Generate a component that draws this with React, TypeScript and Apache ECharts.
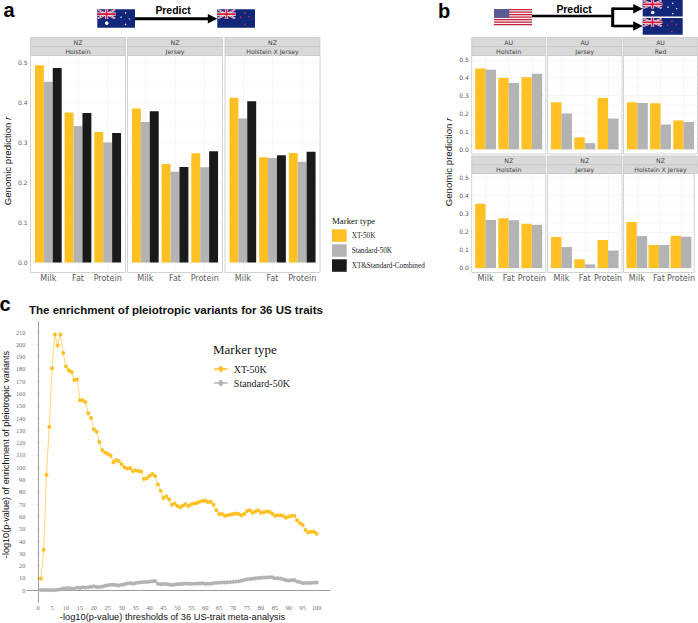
import React, { useEffect, useRef } from "react";
import * as echarts from "echarts";

const traits = ["Milk", "Fat", "Protein"];
const traitPositions = [1, 2, 3];
const rMajorTicks = [0, 0.1, 0.2, 0.3, 0.4, 0.5];
const rMinorTicks = [0.05, 0.15, 0.25, 0.35, 0.45];
const thresholdTicks = [0, 5, 10, 15, 20, 25, 30, 35, 40, 45, 50, 55, 60, 65, 70, 75, 80, 85, 90, 95, 100];
const enrichmentTicks = [0, 10, 20, 30, 40, 50, 60, 70, 80, 90, 100, 110, 120, 130, 140, 150, 160, 170, 180, 190, 200, 210];

const aHolsteinXT = [0.493, 0.375, 0.326];
const aHolsteinStd = [0.452, 0.341, 0.3];
const aHolsteinCombined = [0.486, 0.374, 0.324];
const aJerseyXT = [0.385, 0.246, 0.273];
const aJerseyStd = [0.351, 0.227, 0.238];
const aJerseyCombined = [0.378, 0.239, 0.278];
const aCrossXT = [0.412, 0.263, 0.274];
const aCrossStd = [0.36, 0.261, 0.252];
const aCrossCombined = [0.403, 0.268, 0.277];

const bAuHolsteinXT = [0.452, 0.398, 0.402];
const bAuHolsteinStd = [0.444, 0.37, 0.422];
const bAuJerseyXT = [0.263, 0.067, 0.287];
const bAuJerseyStd = [0.2, 0.035, 0.172];
const bAuRedXT = [0.263, 0.257, 0.161];
const bAuRedStd = [0.259, 0.139, 0.152];
const bNzHolsteinXT = [0.356, 0.275, 0.245];
const bNzHolsteinStd = [0.266, 0.264, 0.24];
const bNzJerseyXT = [0.172, 0.048, 0.155];
const bNzJerseyStd = [0.116, 0.02, 0.096];
const bNzCrossXT = [0.255, 0.127, 0.179];
const bNzCrossStd = [0.177, 0.127, 0.173];

const enrichmentXT = [
  9.5, 33, 94, 133, 180.5, 208, 199, 208, 193, 182,
  179, 177.5, 171, 171.5, 154.5, 154.5, 153, 144, 140, 131,
  129, 120.5, 114, 112, 111, 109.5, 104, 106, 105, 102.5,
  100, 99, 99.5, 97, 97.5, 97, 96.5, 90.5, 91, 93,
  94.5, 93, 86, 81, 75, 76.5, 74, 69.5, 70.5, 68.5,
  67.5, 69, 70, 68.5, 70, 70.5, 71, 72, 72.5, 73,
  71.5, 72, 69.5, 65, 62, 62, 60.5, 61, 61.5, 62,
  62.5, 62, 61, 62, 64.5, 65, 63, 64, 65, 63,
  63.5, 64, 64, 62.5, 60.5, 61, 61, 60.5, 59, 60,
  60.5, 60.5, 57, 54.5, 53, 49, 47, 47.5, 47.5, 46,
];
const enrichmentStd = [
  0.3, 0.2, 0.2, 0.1, 0.2, 0.1, 0.4, 0.7, 1.5, 1.7,
  1.8, 1.5, 1.2, 2.2, 1.9, 2.5, 2.3, 2.5, 2.9, 3.2,
  2.6, 2.7, 3.0, 3.6, 4.0, 4.4, 4.5, 4.2, 3.8, 4.5,
  4.9, 5.5, 5.8, 5.4, 5.8, 6.2, 6.5, 6.6, 6.7, 7.0,
  7.3, 7.5, 5.2, 4.9, 5.0, 5.1, 4.7, 4.3, 4.6, 4.9,
  5.0, 5.3, 5.5, 5.3, 5.2, 5.3, 5.4, 5.5, 5.7, 5.2,
  5.3, 5.4, 5.8, 6.0, 6.2, 6.3, 6.3, 6.5, 6.6, 6.8,
  7.0, 7.4, 7.8, 8.3, 9.0, 9.2, 9.4, 9.7, 10.0, 10.2,
  10.3, 10.4, 10.5, 10.5, 9.8, 9.7, 9.5, 9.0, 8.2, 8.0,
  8.2, 8.3, 7.0, 6.7, 5.8, 5.8, 6.0, 6.0, 6.2, 6.3,
];

const XT = "XT-50K";
const STD = "Standard-50K";
const COMBINED = "XT&Standard-Combined";
const YELLOW = "#FFC024";
const GREY = "#B3B3B3";
const BLACK = "#1A1A1A";
const SANS = "'DejaVu Sans'";
const ARIAL = "'Liberation Sans'";
const SERIF = "'Liberation Serif'";

type Panel = {
  x: number; y: number; w: number; h: number; top: string; breed: string;
  stripTop: number; stripH: number; min: number; max: number; showY: boolean; showX: boolean;
  fs: number; values: [string, number[], string][];
};

const panels: Panel[] = [
  { x: 30.5, y: 55.5, w: 95, h: 217, top: "NZ", breed: "Holstein", stripTop: 37.5, stripH: 9, min: -0.025, max: 0.5175, showY: true, showX: true, fs: 8,
    values: [[XT, aHolsteinXT, YELLOW], [STD, aHolsteinStd, GREY], [COMBINED, aHolsteinCombined, BLACK]] },
  { x: 127.5, y: 55.5, w: 95, h: 217, top: "NZ", breed: "Jersey", stripTop: 37.5, stripH: 9, min: -0.025, max: 0.5175, showY: false, showX: true, fs: 8,
    values: [[XT, aJerseyXT, YELLOW], [STD, aJerseyStd, GREY], [COMBINED, aJerseyCombined, BLACK]] },
  { x: 225, y: 55.5, w: 95, h: 217, top: "NZ", breed: "Holstein X Jersey", stripTop: 37.5, stripH: 9, min: -0.025, max: 0.5175, showY: false, showX: true, fs: 8,
    values: [[XT, aCrossXT, YELLOW], [STD, aCrossStd, GREY], [COMBINED, aCrossCombined, BLACK]] },
  { x: 471.7, y: 55.5, w: 74, h: 98.5, top: "AU", breed: "Holstein", stripTop: 37.5, stripH: 9, min: -0.026, max: 0.524, showY: true, showX: false, fs: 8,
    values: [[XT, bAuHolsteinXT, YELLOW], [STD, bAuHolsteinStd, GREY]] },
  { x: 547.5, y: 55.5, w: 74.5, h: 98.5, top: "AU", breed: "Jersey", stripTop: 37.5, stripH: 9, min: -0.026, max: 0.524, showY: false, showX: false, fs: 8,
    values: [[XT, bAuJerseyXT, YELLOW], [STD, bAuJerseyStd, GREY]] },
  { x: 623.5, y: 55.5, w: 74, h: 98.5, top: "AU", breed: "Red", stripTop: 37.5, stripH: 9, min: -0.026, max: 0.524, showY: false, showX: false, fs: 8,
    values: [[XT, bAuRedXT, YELLOW], [STD, bAuRedStd, GREY]] },
  { x: 471.7, y: 173.5, w: 74, h: 99, top: "NZ", breed: "Holstein", stripTop: 156, stripH: 9, min: -0.025, max: 0.523, showY: true, showX: true, fs: 8,
    values: [[XT, bNzHolsteinXT, YELLOW], [STD, bNzHolsteinStd, GREY]] },
  { x: 547.5, y: 173.5, w: 74.5, h: 99, top: "NZ", breed: "Jersey", stripTop: 156, stripH: 9, min: -0.025, max: 0.523, showY: false, showX: true, fs: 8,
    values: [[XT, bNzJerseyXT, YELLOW], [STD, bNzJerseyStd, GREY]] },
  { x: 623.5, y: 173.5, w: 74, h: 99, top: "NZ", breed: "Holstein X Jersey", stripTop: 156, stripH: 9, min: -0.025, max: 0.523, showY: false, showX: true, fs: 8,
    values: [[XT, bNzCrossXT, YELLOW], [STD, bNzCrossStd, GREY]] },
];

const txt = (text: string, x: number, y: number, font: string, size: number, fill: string, extra: any = {}, styleExtra: any = {}) => ({
  type: "text", x, y, silent: true, ...extra,
  style: { text, fontFamily: font, fontSize: size, fill, align: "center", verticalAlign: "middle", ...styleExtra },
});

function unionJack(x: number, y: number, w: number, h: number) {
  const diag = (a: number[], b: number[], c: string, lw: number) => ({
    type: "line", silent: true, shape: { x1: a[0], y1: a[1], x2: b[0], y2: b[1] }, style: { stroke: c, lineWidth: lw },
  });
  const rect = (rx: number, ry: number, rw: number, rh: number, c: string) => ({
    type: "rect", silent: true, shape: { x: rx, y: ry, width: rw, height: rh }, style: { fill: c },
  });
  return [
    diag([x + 0.7, y + 0.5], [x + w - 0.7, y + h - 0.5], "#FFFFFF", 1.8),
    diag([x + w - 0.7, y + 0.5], [x + 0.7, y + h - 0.5], "#FFFFFF", 1.8),
    diag([x + 0.7, y + 0.5], [x + w - 0.7, y + h - 0.5], "#D8143A", 0.7),
    diag([x + w - 0.7, y + 0.5], [x + 0.7, y + h - 0.5], "#D8143A", 0.7),
    rect(x, y + h / 2 - 1.6, w, 3.2, "#FFFFFF"),
    rect(x + w / 2 - 1.6, y, 3.2, h, "#FFFFFF"),
    rect(x, y + h / 2 - 0.9, w, 1.8, "#D8143A"),
    rect(x + w / 2 - 0.9, y, 1.8, h, "#D8143A"),
  ];
}

function southernFlag(x: number, y: number, w: number, h: number, stars: number[][], color: string) {
  const base = { type: "rect", silent: true, shape: { x, y, width: w, height: h }, style: { fill: "#12267A" } };
  const dots = stars.map((s) => ({
    type: "circle", silent: true, shape: { cx: x + s[0] * w, cy: y + s[1] * h, r: s[2] }, style: { fill: color },
  }));
  return [base, ...unionJack(x, y, w * 0.49, h * 0.52), ...dots];
}

const auStars = [[0.25, 0.75, 1.8], [0.75, 0.2, 0.7], [0.63, 0.43, 0.7], [0.85, 0.52, 0.6], [0.75, 0.82, 0.7]];
const nzStars = [[0.73, 0.2, 0.8], [0.62, 0.43, 0.8], [0.84, 0.4, 0.8], [0.73, 0.82, 0.8]];

function usFlag(x: number, y: number, w: number, h: number) {
  const out: any[] = [{ type: "rect", silent: true, shape: { x, y, width: w, height: h }, style: { fill: "#F4F0F0" } }];
  const sh = h / 13;
  for (let i = 0; i < 13; i += 2) {
    out.push({ type: "rect", silent: true, shape: { x, y: y + i * sh, width: w, height: sh }, style: { fill: "#C8203F" } });
  }
  out.push({ type: "rect", silent: true, shape: { x, y, width: w * 0.4, height: sh * 7 }, style: { fill: "#5A5A94" } });
  return out;
}

function arrowHead(tipX: number, y: number, len: number, half: number) {
  return { type: "polygon", silent: true, shape: { points: [[tipX, y], [tipX - len, y - half], [tipX - len, y + half]] }, style: { fill: "#000000" } };
}
function seg(x1: number, y1: number, x2: number, y2: number, lw: number) {
  return { type: "line", silent: true, shape: { x1, y1, x2, y2 }, style: { stroke: "#000000", lineWidth: lw } };
}

const legendLineIcon = "path://M0 44H34A16 16 0 0 1 66 44H100V56H66A16 16 0 0 1 34 56H0Z";

function buildOption() {
  const grid: any[] = [];
  const xAxis: any[] = [];
  const yAxis: any[] = [];
  const series: any[] = [];
  const graphic: any[] = [];

  panels.forEach((p) => {
    const gi = grid.length;
    grid.push({ left: p.x, top: p.y, width: p.w, height: p.h, show: true, backgroundColor: "#FFFFFF", borderColor: "#D2D2D2", borderWidth: 1 });
    xAxis.push({
      type: "value", gridIndex: gi, min: 0.4, max: 3.6,
      axisLine: { show: false },
      axisTick: { show: false, customValues: traitPositions },
      axisLabel: {
        show: p.showX, customValues: traitPositions, margin: 1.5, fontFamily: SANS, fontSize: p.fs, color: "#5A5A5A",
        formatter: (v: number) => traits[Math.round(v) - 1] ?? "",
      },
      splitLine: { show: true, lineStyle: { color: "#EFEFEF", width: 0.6 } },
    });
    const yi = yAxis.length;
    yAxis.push({
      type: "value", gridIndex: gi, min: p.min, max: p.max,
      axisLine: { show: false },
      axisTick: { show: false, customValues: rMajorTicks },
      axisLabel: {
        show: p.showY, customValues: rMajorTicks, margin: 3, fontFamily: SANS, fontSize: 6, color: "#5A5A5A",
        formatter: (v: number) => v.toFixed(1),
      },
      splitLine: { show: true, lineStyle: { color: "#EDEDED", width: 0.6 } },
    });
    yAxis.push({
      type: "value", gridIndex: gi, min: p.min, max: p.max, position: "right",
      axisLine: { show: false },
      axisTick: { show: false, customValues: rMinorTicks },
      axisLabel: { show: false, customValues: rMinorTicks },
      splitLine: { show: true, lineStyle: { color: "#F7F7F7", width: 0.5 } },
    });
    const unit = p.w / 3.2;
    p.values.forEach(([name, vals, color]) => {
      series.push({
        type: "bar", name, xAxisIndex: gi, yAxisIndex: yi, barGap: "0%",
        barWidth: (unit * 0.9) / p.values.length,
        itemStyle: { color },
        data: vals.map((v, i) => [traitPositions[i], v]),
      });
    });
    const stripStyle = { fill: "#D9D9D9", stroke: "#C4C4C4", lineWidth: 0.7 };
    graphic.push({ type: "rect", silent: true, shape: { x: p.x, y: p.stripTop, width: p.w, height: p.stripH }, style: stripStyle });
    graphic.push({ type: "rect", silent: true, shape: { x: p.x, y: p.stripTop + p.stripH, width: p.w, height: p.y - p.stripTop - p.stripH }, style: stripStyle });
    graphic.push(txt(p.top, p.x + p.w / 2, p.stripTop + p.stripH / 2 + 0.3, SANS, 6.2, "#444444"));
    graphic.push(txt(p.breed, p.x + p.w / 2, p.stripTop + p.stripH + (p.y - p.stripTop - p.stripH) / 2 + 0.3, SANS, 6.2, "#444444"));
  });

  // panel c
  const gc = grid.length;
  grid.push({ left: 26, top: 321.7, width: 304, height: 280.6, show: false });
  xAxis.push({
    type: "value", gridIndex: gc, min: -4, max: 104.8,
    name: "-log10(p-value) thresholds of 36 US-trait meta-analysis",
    nameLocation: "middle", nameGap: 10, nameMoveOverlap: false,
    nameTextStyle: { fontFamily: ARIAL, fontSize: 9.3, color: "#111111", padding: [0, 12, 0, 0] },
    axisLine: { show: true, lineStyle: { color: "#9C9C9C", width: 1 } },
    axisTick: { show: false, customValues: thresholdTicks },
    axisLabel: { customValues: thresholdTicks, margin: 2, fontFamily: SERIF, fontSize: 6.3, color: "#707070" },
    splitLine: { show: false },
  });
  yAxis.push({
    type: "value", gridIndex: gc, min: -9.8, max: 218.4,
    name: "-log10(p-value) of enrichment of pleiotropic variants",
    nameLocation: "middle", nameGap: 17, nameMoveOverlap: false,
    nameTextStyle: { fontFamily: ARIAL, fontSize: 9.1, color: "#111111", padding: [0, 0, 0, 15] },
    axisLine: { show: true, lineStyle: { color: "#9C9C9C", width: 1 } },
    axisTick: { show: true, length: 1, customValues: enrichmentTicks, lineStyle: { color: "#AAAAAA", width: 0.6 } },
    axisLabel: { customValues: enrichmentTicks, margin: 1.5, fontFamily: SERIF, fontSize: 6.4, color: "#707070" },
    splitLine: { show: false },
  });
  const cy = yAxis.length - 1;
  const lineSeries = (name: string, vals: number[], color: string, lineColor: string) => ({
    type: "line", name, xAxisIndex: gc, yAxisIndex: cy, symbol: "circle", symbolSize: 4, showSymbol: true,
    lineStyle: { color: lineColor, width: 0.9 }, itemStyle: { color },
    data: vals.map((v, i) => [i + 1, v]),
  });
  series.push(lineSeries(STD, enrichmentStd, GREY, "#C8C8C8"));
  series.push(lineSeries(XT, enrichmentXT, YELLOW, "#FFD066"));

  // annotations
  graphic.push(txt("a", 9, 10.2, ARIAL, 20, "#000000", {}, { fontWeight: "bold" }));
  graphic.push(txt("b", 444, 11, ARIAL, 20, "#000000", {}, { fontWeight: "bold" }));
  graphic.push(txt("c", 5, 304, ARIAL, 20, "#000000", {}, { fontWeight: "bold" }));
  graphic.push(txt("The enrichment of pleiotropic variants for 36 US traits", 176, 309.7, ARIAL, 11.5, "#111111", {}, { fontWeight: "bold" }));

  const rich = (size: number) => ({
    a: { fontFamily: ARIAL, fontSize: size, fill: "#111111", color: "#111111" },
    b: { fontFamily: ARIAL, fontSize: size, fontStyle: "italic", fill: "#111111", color: "#111111" },
  });
  graphic.push({ type: "text", silent: true, x: 7, y: 161, rotation: Math.PI / 2,
    style: { text: "{a|Genomic prediction }{b|r}", rich: rich(9.6), align: "center", verticalAlign: "middle" } });
  graphic.push({ type: "text", silent: true, x: 448, y: 162, rotation: Math.PI / 2,
    style: { text: "{a|Genomic prediction }{b|r}", rich: rich(9.6), align: "center", verticalAlign: "middle" } });

  graphic.push(...southernFlag(97.3, 9.3, 37.7, 18.4, auStars, "#FFFFFF"));
  graphic.push(...southernFlag(217.3, 9.3, 37.7, 18.4, nzStars, "#C8304A"));
  graphic.push(seg(135, 18.7, 209, 18.7, 3), arrowHead(217.3, 18.7, 9.5, 4.7));
  graphic.push(txt("Predict", 173, 10.3, ARIAL, 10.4, "#000000", {}, { fontWeight: "bold" }));

  graphic.push(...usFlag(494, 9, 38, 16.3));
  graphic.push(...southernFlag(642.7, 0, 40, 16.6, auStars, "#FFFFFF"));
  graphic.push(...southernFlag(642.7, 18, 40, 16.7, nzStars, "#C8304A"));
  graphic.push(seg(532, 16, 612.7, 16, 2.6), seg(612.7, 7.5, 612.7, 27, 3));
  graphic.push(seg(612.7, 8.7, 635, 8.7, 2.6), seg(612.7, 26, 635, 26, 2.6));
  graphic.push(arrowHead(642.7, 8.7, 9.5, 4.7), arrowHead(642.7, 26, 9.5, 4.7));
  graphic.push(txt("Predict", 574, 9.3, ARIAL, 10.4, "#000000", {}, { fontWeight: "bold" }));

  graphic.push(txt("Marker type", 332, 221, SERIF, 8.8, "#111111", {}, { align: "left" }));
  graphic.push(txt("Marker type", 213, 349, SERIF, 13, "#111111", {}, { align: "left" }));

  return {
    animation: false,
    backgroundColor: "#FFFFFF",
    grid, xAxis, yAxis, series, graphic,
    legend: [
      {
        left: 332, top: 229.3, padding: 0, orient: "vertical", itemWidth: 14.7, itemHeight: 12.5, itemGap: 2.5, selectedMode: false,
        data: [{ name: XT, icon: "rect" }, { name: STD, icon: "rect" }, { name: COMBINED, icon: "rect" }],
        textStyle: { fontFamily: SERIF, fontSize: 7.2, color: "#222222" },
      },
      {
        left: 214, top: 364, padding: 0, orient: "vertical", itemWidth: 14, itemHeight: 6, itemGap: 4, selectedMode: false,
        data: [{ name: XT, icon: legendLineIcon }, { name: STD, icon: legendLineIcon }],
        textStyle: { fontFamily: SERIF, fontSize: 10, color: "#222222", padding: [0, 0, 0, 1] },
      },
    ],
  };
}

export default function App() {
  const ref = useRef<HTMLDivElement>(null);
  useEffect(() => {
    const chart = echarts.init(ref.current!, undefined, { renderer: "svg" });
    chart.setOption(buildOption() as any);
    return () => chart.dispose();
  }, []);
  return <div ref={ref} style={{ position: "absolute", left: 0, top: 0, width: 698, height: 623 }} />;
}
